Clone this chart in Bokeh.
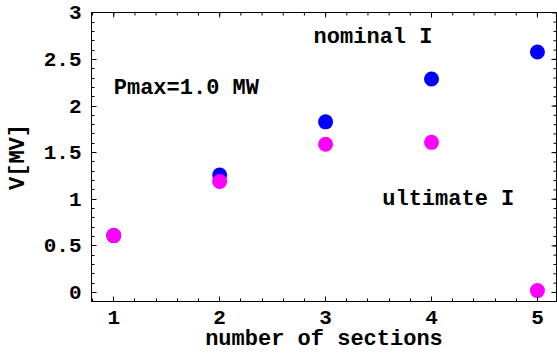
import math
from bokeh.plotting import figure
from bokeh.models import Range1d, LinearAxis, FixedTicker, Label
from bokeh.embed import file_html
from bokeh.resources import INLINE

sections = [1, 2, 3, 4, 5]
v_nominal = [0.61, 1.26, 1.83, 2.29, 2.58]
v_ultimate = [0.61, 1.19, 1.59, 1.61, 0.02]
x_ticks = [1, 2, 3, 4, 5]
y_ticks = [0, 0.5, 1, 1.5, 2, 2.5, 3]
x_minor = [round(0.8 + 0.2 * i, 2) for i in range(22)]
y_minor = [round(-0.1 + 0.1 * i, 2) for i in range(32)]

FONT = "Liberation Mono"
FS = "22px"
TFS = "21px"

X0, X1 = 0.79, 5.18
Y0, Y1 = -0.097, 3.003

p = figure(width=557, height=355, output_backend="svg", toolbar_location=None,
           x_range=Range1d(X0, X1), y_range=Range1d(Y0, Y1),
           x_axis_location=None, y_axis_location=None,
           min_border_left=91, min_border_top=12, min_border_bottom=54, min_border_right=1)
p.outline_line_color = "black"
p.outline_line_width = 1
p.xgrid.visible = False
p.ygrid.visible = False
p.background_fill_color = "white"
p.border_fill_color = "white"


def style(ax):
    ax.major_tick_in = 5
    ax.major_tick_out = 0
    ax.minor_tick_in = 3
    ax.minor_tick_out = 0
    ax.axis_line_color = "black"
    ax.major_tick_line_color = "black"
    ax.minor_tick_line_color = "black"
    ax.major_label_text_font = FONT
    ax.major_label_text_font_style = "bold"
    ax.major_label_text_color = "black"
    ax.major_label_text_font_size = TFS
    ax.axis_label_text_font = FONT
    ax.axis_label_text_font_style = "bold"
    ax.axis_label_text_font_size = FS
    ax.axis_label_text_color = "black"


xb = LinearAxis(ticker=FixedTicker(ticks=x_ticks, minor_ticks=x_minor), axis_label="number of sections")
style(xb)
xb.major_label_standoff = 9
xb.axis_label_standoff = 0
p.add_layout(xb, "below")

yl = LinearAxis(ticker=FixedTicker(ticks=y_ticks, minor_ticks=y_minor), axis_label="V[MV]")
style(yl)
yl.major_label_standoff = 10
yl.axis_label_standoff = 10
p.add_layout(yl, "left")

# ticks on top and right frame edges (no labels)
p.ray(x=x_ticks, y=[Y1] * len(x_ticks), length=5, angle=-math.pi / 2, length_units="screen", color="black", line_width=1)
p.ray(x=x_minor, y=[Y1] * len(x_minor), length=3, angle=-math.pi / 2, length_units="screen", color="black", line_width=1)
p.ray(x=[X1] * len(y_ticks), y=y_ticks, length=5, angle=math.pi, length_units="screen", color="black", line_width=1)
p.ray(x=[X1] * len(y_minor), y=y_minor, length=3, angle=math.pi, length_units="screen", color="black", line_width=1)

p.scatter(sections, v_nominal, size=15, color="#0000FF", line_color=None)
p.scatter(sections, v_ultimate, size=15, color="#FF00FF", line_color=None)

for txt, x, y in [("nominal I", 2.887, 2.73), ("Pmax=1.0 MW", 1.0, 2.19), ("ultimate I", 3.535, 1.0)]:
    p.add_layout(Label(x=x, y=y, text=txt, text_font=FONT, text_font_style="bold",
                       text_font_size=FS, text_baseline="middle", text_align="left",
                       text_color="black"))

open("out.html", "w").write(file_html(p, INLINE))
